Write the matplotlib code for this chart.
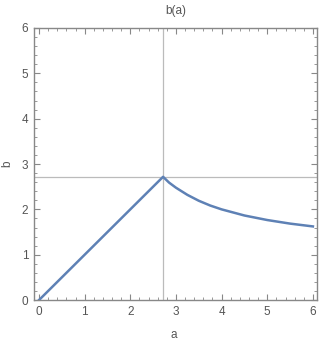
import matplotlib
matplotlib.use("Agg")
import matplotlib.pyplot as plt
from matplotlib.ticker import MultipleLocator

# values
a_vals = [0.0, 0.5, 1.0, 1.5, 2.0, 2.5, 2.718,
          2.85, 3.0, 3.25, 3.5, 3.75, 4.0, 4.5, 5.0, 5.5, 6.0]
b_vals = [0.0, 0.5, 1.0, 1.5, 2.0, 2.5, 2.718,
          2.59, 2.478, 2.32, 2.19, 2.085, 2.0, 1.865, 1.765, 1.686, 1.624]
peak_a = 2.718
peak_b = 2.718
title = "b(a)"
x_label = "a"
y_label = "b"

line_color = "#5E81B5"
frame_color = "#888888"
text_color = "#555555"
grid_color = "#BBBBBB"

plt.rcParams["font.family"] = ["Liberation Sans", "DejaVu Sans"]

fig = plt.figure(figsize=(3.33, 3.41), dpi=100)
ax = fig.add_axes([0.102, 0.120, 0.850, 0.798])

ax.axvline(peak_a, color=grid_color, lw=0.9, zorder=1)
ax.axhline(peak_b, color=grid_color, lw=0.9, zorder=1)
ax.plot(a_vals, b_vals, color=line_color, lw=1.8, zorder=3)

ax.set_xlim(-0.11, 6.09)
ax.set_ylim(0, 6)
ax.xaxis.set_major_locator(MultipleLocator(1))
ax.xaxis.set_minor_locator(MultipleLocator(0.2))
ax.yaxis.set_major_locator(MultipleLocator(1))
ax.yaxis.set_minor_locator(MultipleLocator(0.2))

for side in ax.spines.values():
    side.set_color(frame_color)
    side.set_linewidth(1.0)

ax.tick_params(which="both", direction="in", top=True, right=True,
               color=frame_color, labelcolor=text_color, labelsize=8.5)
ax.tick_params(which="major", length=4, width=0.8, pad=4)
ax.tick_params(which="minor", length=2, width=0.6)

ax.set_title(title, color=text_color, fontsize=8.5, pad=10)
ax.set_xlabel(x_label, color=text_color, fontsize=8.5, va="center")
ax.set_ylabel(y_label, color=text_color, fontsize=8.5, va="center")
ax.xaxis.set_label_coords(0.495, -0.129)
ax.yaxis.set_label_coords(-0.095, 0.5)

fig.savefig("out.png", dpi=100)
